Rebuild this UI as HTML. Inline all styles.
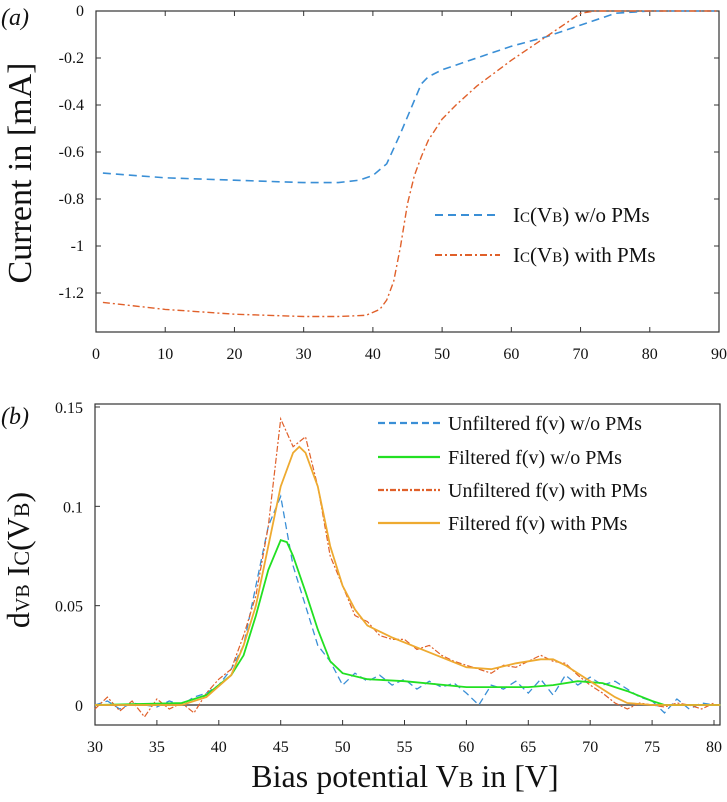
<!DOCTYPE html>
<html><head><meta charset="utf-8"><style>
html,body{margin:0;padding:0;background:#fff;width:727px;height:802px;overflow:hidden}
svg{display:block;font-family:"Liberation Serif",serif}
</style></head><body>
<svg id="chart" width="727" height="802" viewBox="0 0 727 802" xmlns="http://www.w3.org/2000/svg">
<g id="pa"></g>
<g id="pb"></g>
</svg>
<script>
// ---- Panel (a) data ----
const aBlueX = [1,10,20,30,35,38,40,42,44,46,47,48,50,55,60,65,70,73,75,80,90];
const aBlueY = [-0.69,-0.71,-0.72,-0.73,-0.73,-0.72,-0.70,-0.65,-0.52,-0.38,-0.31,-0.28,-0.25,-0.20,-0.15,-0.11,-0.06,-0.03,-0.01,0,0];
const aRedX = [1,10,20,30,35,39,41,42,43,44,45,46,47,48,50,52,55,60,65,68,70,72,90];
const aRedY = [-1.24,-1.27,-1.29,-1.30,-1.30,-1.295,-1.27,-1.23,-1.15,-1.0,-0.82,-0.70,-0.62,-0.55,-0.46,-0.40,-0.32,-0.21,-0.11,-0.05,-0.01,0,0];
const aXTicks = [0,10,20,30,40,50,60,70,80,90];
const aYTicks = [0,-0.2,-0.4,-0.6,-0.8,-1,-1.2];
const aYLabels = ["0","-0.2","-0.4","-0.6","-0.8","-1","-1.2"];
// ---- Panel (b) data ----
const bRawX = [30,31,32,33,34,35,36,37,38,39,40,41,42,43,44,45,46,47,48,49,50,51,52,53,54,55,56,57,58,59,60,61,62,63,64,65,66,67,68,69,70,71,72,73,74,75,76,77,78,79,80];
const bBlueRaw = [0,0.002,-0.002,0.001,0,-0.001,0.002,0,0.004,0.006,0.01,0.018,0.03,0.06,0.09,0.105,0.07,0.05,0.03,0.022,0.01,0.016,0.012,0.015,0.01,0.013,0.008,0.012,0.009,0.011,0.006,0.0,0.01,0.008,0.012,0.006,0.013,0.005,0.015,0.01,0.014,0.01,0.012,0.008,0.004,0.002,-0.004,0.003,-0.002,0.001,0];
const bRedRaw = [-0.002,0.004,-0.003,0.002,-0.006,0.003,-0.002,0.001,-0.004,0.006,0.013,0.018,0.035,0.055,0.09,0.144,0.13,0.135,0.11,0.075,0.06,0.045,0.042,0.035,0.033,0.033,0.028,0.03,0.025,0.022,0.02,0.018,0.016,0.02,0.019,0.022,0.025,0.022,0.021,0.015,0.01,0.006,0.001,-0.002,0.001,0,-0.001,0.001,0,-0.002,0.001];
const bGreenX = [30,37,39,41,42,43,44,45,45.5,46,47,48,49,50,52,55,60,65,67,69,71,73,75,76,80.5];
const bGreenY = [0,0.001,0.005,0.015,0.025,0.045,0.068,0.083,0.082,0.075,0.057,0.038,0.022,0.016,0.013,0.012,0.009,0.009,0.01,0.012,0.011,0.007,0.002,0,0];
const bOrangeX = [30,37,39,41,42,43,44,45,46,46.5,47,48,49,50,51,52,54,56,58,60,62,64,66,67,68,70,72,73,75,80.5];
const bOrangeY = [0,0,0.004,0.015,0.03,0.05,0.08,0.11,0.127,0.13,0.127,0.11,0.08,0.06,0.048,0.04,0.034,0.029,0.024,0.019,0.018,0.021,0.023,0.023,0.02,0.012,0.004,0.001,0,0];
const bXTicks = [30,35,40,45,50,55,60,65,70,75,80];
const bYTicks = [0,0.05,0.1,0.15];
const bYLabels = ["0","0.05","0.1","0.15"];

const NS = "http://www.w3.org/2000/svg";
function mk(tag, attrs, parent, text){
  const e = document.createElementNS(NS, tag);
  for (const k in attrs) e.setAttribute(k, attrs[k]);
  if (text !== undefined) e.textContent = text;
  parent.appendChild(e);
  return e;
}
function line(xs, ys, sx, sy, style, parent, name){
  let d = "";
  xs.forEach((x,i)=>{ d += (i?"L":"M") + sx(x).toFixed(1) + "," + sy(ys[i]).toFixed(1); });
  const p = mk("path", Object.assign({d:d, fill:"none"}, style), parent);
  
  
  return p;
}

// Panel a
const pa = document.getElementById("pa");
const aL=96, aR=719, aT=11, aB=332;
const ax = v => aL + (v-0)/90*(aR-aL);
const ay = v => aT + (0-v)/1.2*(293-aT);
let fa = mk("rect",{x:aL,y:aT,width:aR-aL,height:aB-aT,fill:"none",stroke:"#333","stroke-width":1.2},pa);


aXTicks.forEach(t=>{
  mk("line",{x1:ax(t),x2:ax(t),y1:aB,y2:aB-5,stroke:"#333"},pa);
  mk("line",{x1:ax(t),x2:ax(t),y1:aT,y2:aT+5,stroke:"#333"},pa);
  const tx = mk("text",{x:ax(t),y:359,"text-anchor":"middle","font-size":16,fill:"#111"},pa,String(t));
  
  
});
aYTicks.forEach((t,i)=>{
  mk("line",{x1:aL,x2:aL+5,y1:ay(t),y2:ay(t),stroke:"#333"},pa);
  mk("line",{x1:aR,x2:aR-5,y1:ay(t),y2:ay(t),stroke:"#333"},pa);
  const tx = mk("text",{x:aL-12,y:ay(t)+5,"text-anchor":"end","font-size":16,fill:"#111"},pa,aYLabels[i]);
  
  
});
line(aBlueX,aBlueY,ax,ay,{stroke:"#3a8fd6","stroke-width":1.6,"stroke-dasharray":"8,5"},pa,"series-ic-without-pms");
line(aRedX,aRedY,ax,ay,{stroke:"#e0602a","stroke-width":1.4,"stroke-dasharray":"7,3,2,3"},pa,"series-ic-with-pms");
let lt = mk("text",{x:1,y:25,"font-size":24,"font-style":"italic",fill:"#111"},pa,"(a)");


let yt = mk("text",{transform:"translate(31,173) rotate(-90)","text-anchor":"middle","font-size":34,fill:"#111"},pa,"Current in [mA]");


// legend a
[["#3a8fd6","8,5","w/o PMs",215],["#e0602a","7,3,2,3","with PMs",255]].forEach(r=>{
  const g = mk("g",{},pa);
  
  
  mk("line",{x1:435,x2:500,y1:r[3],y2:r[3],stroke:r[0],"stroke-width":2,"stroke-dasharray":r[1]},g);
  const t = mk("text",{x:513,y:r[3]+7,"font-size":21,fill:"#111"},g);
  t.innerHTML = 'I<tspan font-size="15">C</tspan>(V<tspan font-size="15">B</tspan>) '+r[2];
});

// Panel b
const pb = document.getElementById("pb");
const bL=95, bR=720, bT=404, bB=725;
const bx = v => 95 + (v-30)/50*(714-95);
const by = v => 705 - v/0.15*(705-407);
let fb = mk("rect",{x:bL,y:bT,width:bR-bL,height:bB-bT,fill:"none",stroke:"#333","stroke-width":1.2},pb);


let zl = mk("line",{x1:bL,x2:bR,y1:by(0),y2:by(0),stroke:"#777","stroke-width":2},pb);


bXTicks.forEach(t=>{
  mk("line",{x1:bx(t),x2:bx(t),y1:bB,y2:bB-5,stroke:"#333"},pb);
  const tx = mk("text",{x:bx(t),y:bB+27,"text-anchor":"middle","font-size":16,fill:"#111"},pb,String(t));
  
  
});
bYTicks.forEach((t,i)=>{
  mk("line",{x1:bL,x2:bL+5,y1:by(t),y2:by(t),stroke:"#333"},pb);
  const tx = mk("text",{x:bL-12,y:by(t)+6,"text-anchor":"end","font-size":16,fill:"#111"},pb,bYLabels[i]);
  
  
});
line(bRawX,bBlueRaw,bx,by,{stroke:"#3a8fd6","stroke-width":1.3,"stroke-dasharray":"7,4"},pb,"series-unfiltered-without-pms");
line(bRawX,bRedRaw,bx,by,{stroke:"#e0602a","stroke-width":1.2,"stroke-dasharray":"6,2,2,2"},pb,"series-unfiltered-with-pms");
line(bGreenX,bGreenY,bx,by,{stroke:"#22e022","stroke-width":1.8},pb,"series-filtered-without-pms");
line(bOrangeX,bOrangeY,bx,by,{stroke:"#eeaa30","stroke-width":1.8},pb,"series-filtered-with-pms");
let lb = mk("text",{x:1,y:424,"font-size":24,"font-style":"italic",fill:"#111"},pb,"(b)");


let ytb = mk("text",{transform:"translate(29,560) rotate(-90)","text-anchor":"middle","font-size":32,fill:"#111"},pb);
ytb.innerHTML = 'd<tspan font-size="20">VB</tspan> I<tspan font-size="22">C</tspan>(V<tspan font-size="22">B</tspan>)';


let xtb = mk("text",{x:405,y:787,"text-anchor":"middle","font-size":32,fill:"#111"},pb);
xtb.innerHTML = 'Bias potential V<tspan font-size="22">B</tspan> in [V]';


[["#3a8fd6","7,4","Unfiltered f(v) w/o PMs",423],["#22e022","none","Filtered f(v) w/o PMs",457],["#e0602a","6,2,2,2","Unfiltered f(v) with PMs",490],["#eeaa30","none","Filtered f(v) with PMs",523]].forEach(r=>{
  const g = mk("g",{},pb);
  
  
  mk("line",{x1:378,x2:440,y1:r[3],y2:r[3],stroke:r[0],"stroke-width":2.2,"stroke-dasharray":r[1]},g);
  mk("text",{x:448,y:r[3]+7,"font-size":20,fill:"#111"},g,r[2]);
});
</script>
</body></html>
